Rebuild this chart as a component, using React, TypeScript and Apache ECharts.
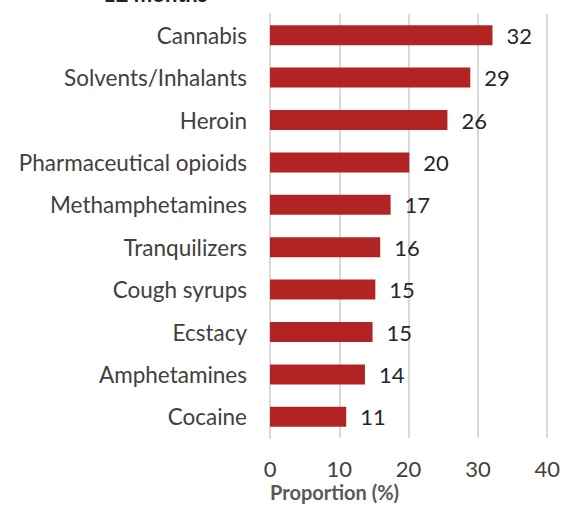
import React, { useEffect, useRef } from "react";
import * as echarts from "echarts";

const categories = [
  "Cannabis",
  "Solvents/Inhalants",
  "Heroin",
  "Pharmaceutical opioids",
  "Methamphetamines",
  "Tranquilizers",
  "Cough syrups",
  "Ecstacy",
  "Amphetamines",
  "Cocaine",
];
const values = [32.1, 28.9, 25.6, 20.1, 17.4, 15.9, 15.2, 14.8, 13.7, 11.0];
const valueLabels = ["32", "29", "26", "20", "17", "16", "15", "15", "14", "11"];
const xTicks = [0, 10, 20, 30, 40];

export default function App() {
  const ref = useRef<HTMLDivElement>(null);
  useEffect(() => {
    if (!ref.current) return;
    const chart = echarts.init(ref.current, null, { renderer: "svg" });
    const font = "Lato, 'Open Sans', sans-serif";
    chart.setOption({
      animation: false,
      backgroundColor: "#ffffff",
      title: {
        text: "12 months",
        left: 98,
        top: -23,
        textStyle: { fontFamily: font, fontSize: 22, fontWeight: "bold", color: "#222" },
      },
      grid: { left: 270, right: 12, top: 14, bottom: 94, containLabel: false },
      xAxis: {
        type: "value",
        min: 0,
        max: 40,
        interval: 10,
        axisLine: { show: false },
        axisTick: { show: false },
        splitLine: { show: true, lineStyle: { color: "#d9d9d9", width: 2 } },
        axisLabel: {
          fontFamily: font,
          fontSize: 22,
          color: "#404040",
          margin: 19,
          formatter: (v: number) => (xTicks.includes(v) ? String(v) : ""),
        },
      },
      yAxis: {
        type: "category",
        inverse: true,
        data: categories,
        axisLine: { show: true, lineStyle: { color: "#d9d9d9", width: 2 } },
        axisTick: { show: false },
        axisLabel: { fontFamily: font, fontSize: 22.5, color: "#404040", margin: 23 },
      },
      series: [
        {
          type: "bar",
          data: values,
          barWidth: 20,
          itemStyle: { color: "#b22424" },
          label: {
            show: true,
            position: "right",
            distance: 14,
            fontFamily: font,
            fontSize: 22,
            color: "#262626",
            formatter: (p: any) => valueLabels[p.dataIndex],
          },
        },
      ],
      graphic: [
        {
          type: "text",
          left: 270,
          top: 482,
          style: {
            text: "Proportion (%)",
            font: `bold 20px ${font}`,
            fill: "#595959",
          },
        },
      ],
    });
    return () => chart.dispose();
  }, []);
  return (
    <div
      ref={ref}
      style={{ position: "absolute", left: 0, top: 0, width: 563, height: 532 }}
    />
  );
}
